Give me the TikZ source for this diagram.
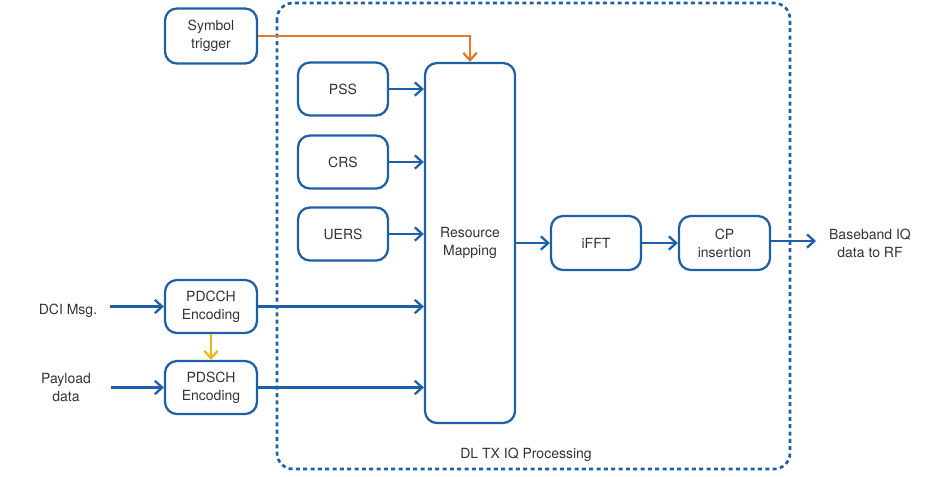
\documentclass[tikz,border=0pt]{standalone}
\usepackage{fontspec}
\setmainfont{TeX Gyre Heros}
\usetikzlibrary{arrows.meta}
\definecolor{bl}{HTML}{1F5FA5}
\definecolor{orng}{HTML}{E87722}
\definecolor{yel}{HTML}{F5B31A}
\definecolor{txt}{HTML}{333333}
\begin{document}
\begin{tikzpicture}[x=0.75pt,y=-0.75pt,
  blk/.style={draw=bl,line width=1.7pt,rounded corners=9pt,fill=white,text=txt,align=center,font=\fontsize{10.5}{13.5}\selectfont,inner sep=0pt},
  lbl/.style={text=txt,align=center,font=\fontsize{10.5}{13.5}\selectfont},
  arr/.style={draw=bl,line width=1.7pt,-{Straight Barb[length=5.5pt,width=10pt,line width=1.7pt]}}]
\useasboundingbox (0,0) rectangle (941,476);
\draw[bl,line width=2pt,dash pattern=on 3pt off 2.5pt,rounded corners=12pt] (277,3) rectangle (790,469);
\node[lbl] (dl) at (526,455) {DL TX IQ Processing};
\node[blk,minimum width=92*0.75pt,minimum height=55*0.75pt] (sym) at (211,36) {Symbol\\trigger};
\node[blk,minimum width=90*0.75pt,minimum height=53*0.75pt] (pss) at (343,89) {PSS};
\node[blk,minimum width=90*0.75pt,minimum height=53*0.75pt] (crs) at (343,162) {CRS};
\node[blk,minimum width=90*0.75pt,minimum height=53*0.75pt] (uers) at (343,234) {UERS};
\node[blk,minimum width=90*0.75pt,minimum height=360*0.75pt] (rm) at (470,243) {Resource\\Mapping};
\node[blk,minimum width=90*0.75pt,minimum height=54*0.75pt] (ifft) at (596,243) {iFFT};
\node[blk,minimum width=91*0.75pt,minimum height=54*0.75pt] (cp) at (724.5,243) {CP\\insertion};
\node[lbl] (bb) at (870,243) {Baseband IQ\\data to RF};
\node[blk,minimum width=92*0.75pt,minimum height=53*0.75pt] (pdcch) at (211,306.5) {PDCCH\\Encoding};
\node[blk,minimum width=92*0.75pt,minimum height=53*0.75pt] (pdsch) at (211,387.5) {PDSCH\\Encoding};
\node[lbl] (dci) at (68,311) {DCI Msg.};
\node[lbl] (pay) at (66,387) {Payload\\data};
\coordinate (dcis) at (110,306.5);
\coordinate (pays) at (111,387.5);
\coordinate (bbe) at (816,241);
\draw[arr] (pss) -- (pss -| rm.west);
\draw[arr] (crs) -- (crs -| rm.west);
\draw[arr] (uers) -- (uers -| rm.west);
\draw[arr] (pdcch) -- (pdcch -| rm.west);
\draw[arr] (pdsch) -- (pdsch -| rm.west);
\draw[arr] (rm.east |- ifft) -- (ifft);
\draw[arr] (ifft) -- (cp);
\draw[arr] (cp.east |- bbe) -- (bbe);
\draw[arr] (dcis) -- (pdcch);
\draw[arr] (pays) -- (pdsch);
\draw[draw=orng,line width=1.7pt,-{Straight Barb[length=5.5pt,width=10pt,line width=1.7pt]}] (sym.east) -- (470,36) -- (rm.north);
\draw[draw=yel,line width=1.7pt,-{Straight Barb[length=5.5pt,width=10pt,line width=1.7pt]}] (pdcch) -- (pdsch);
\end{tikzpicture}
\end{document}
